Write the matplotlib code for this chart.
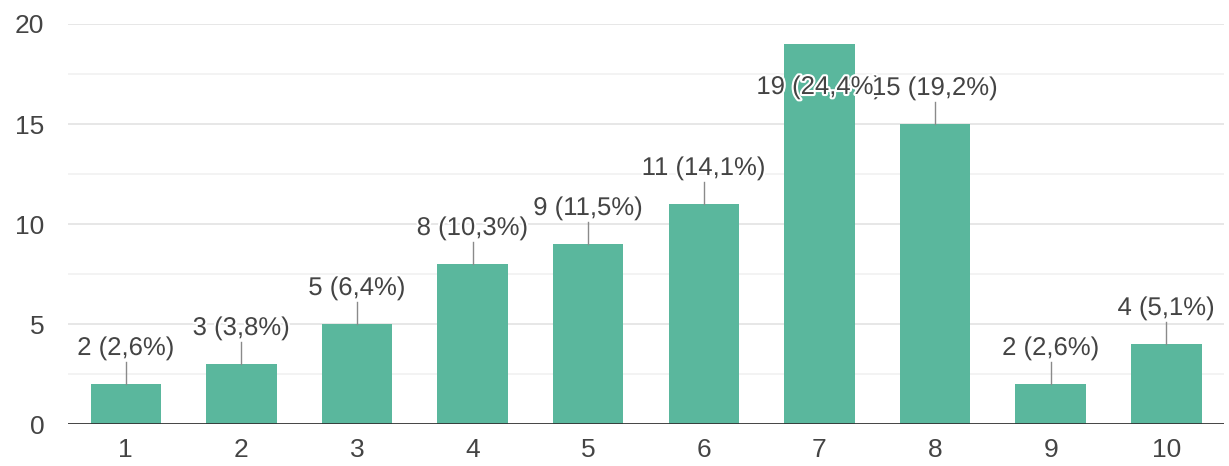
import matplotlib.pyplot as plt
import matplotlib.patheffects as pe
import numpy as np

categories = ['1', '2', '3', '4', '5', '6', '7', '8', '9', '10']
counts = [2, 3, 5, 8, 9, 11, 19, 15, 2, 4]
percents = ['2,6%', '3,8%', '6,4%', '10,3%', '11,5%', '14,1%', '24,4%', '19,2%', '2,6%', '5,1%']

plt.rcParams['font.family'] = ['Liberation Sans', 'DejaVu Sans']

fig = plt.figure(figsize=(12.29, 4.66), dpi=100)
ax = fig.add_axes([0.0553, 0.0901, 0.9407, 0.8584])

x = np.arange(1, len(counts) + 1)
ax.bar(x, counts, width=0.61, color='#5ab79d', zorder=2)

ax.set_xlim(0.5, 10.5)
ax.set_ylim(0, 20)

# grid: major every 5, faint minor every 2.5
for y in np.arange(2.5, 20.1, 2.5):
    major = y % 5 == 0
    ax.axhline(y, color='#e3e3e3' if major else '#f1f1f1', lw=1.2, zorder=0)
ax.axhline(0, color='#333333', lw=2, zorder=3)

for i, (v, p) in enumerate(zip(counts, percents)):
    xi = x[i]
    ly = v + 1.8
    if ly > 18.5:
        ly = 16.85  # no room above, label goes inside the bar
    else:
        ax.plot([xi, xi], [v, v + 1.1], color='#8a8a8a', lw=1, zorder=2)
    ax.text(xi, ly, f'{v} ({p})', ha='center', va='center', fontsize=18.5,
            color='#444444', zorder=4 + i,
            path_effects=[pe.withStroke(linewidth=3, foreground='white')])

ax.set_xticks(x)
ax.set_xticklabels(categories)
ax.set_yticks([0, 5, 10, 15, 20])
ax.tick_params(axis='both', length=0, labelsize=19, labelcolor='#444444')
ax.tick_params(axis='y', pad=17)
ax.tick_params(axis='x', pad=10)
for s in ax.spines.values():
    s.set_visible(False)

fig.savefig('out.png', dpi=100)
